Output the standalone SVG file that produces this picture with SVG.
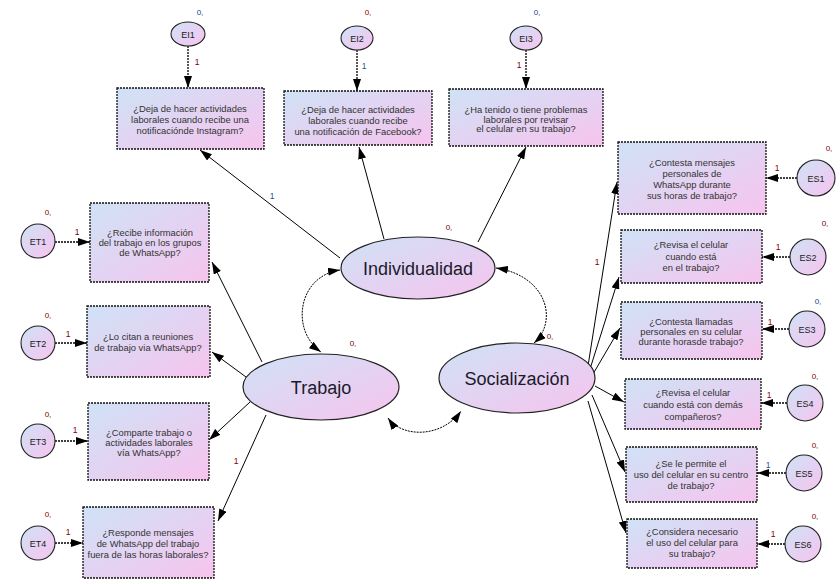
<svg xmlns="http://www.w3.org/2000/svg" width="840" height="584" viewBox="0 0 840 584">
<defs>
<linearGradient id="g" x1="0" y1="0" x2="1" y2="1">
<stop offset="0" stop-color="#cfe2f6"/>
<stop offset="1" stop-color="#f7c4ee"/>
</linearGradient>
<marker id="ah" viewBox="0 0 12 8" refX="12" refY="4" markerWidth="12" markerHeight="8" markerUnits="userSpaceOnUse" orient="auto-start-reverse">
<path d="M0,0 L12,4 L0,8 z" fill="#000"/>
</marker>
<style>
.box{fill:url(#g);stroke:#111;stroke-width:1.3;stroke-dasharray:2 1}
.lat{fill:url(#g);stroke:#222;stroke-width:1.2}
.err{fill:url(#g);stroke:#222;stroke-width:1.1}
.bt{font-family:"Liberation Sans",Arial,sans-serif;font-size:9.4px;fill:#333;text-anchor:middle}
.lt{font-family:"Liberation Sans",Arial,sans-serif;font-size:18px;fill:#1a1a2a;text-anchor:middle}
.et{font-family:"Liberation Sans",Arial,sans-serif;font-size:9px;fill:#222;text-anchor:middle}
.z{font-family:"Liberation Sans",Arial,sans-serif;font-size:8px;fill:#800000;text-anchor:middle}
.zb{font-family:"Liberation Sans",Arial,sans-serif;font-size:8px;fill:#1f3a8a;text-anchor:middle}
.one{font-family:"Liberation Sans",Arial,sans-serif;font-size:8.5px;fill:#800000;text-anchor:middle}
.oneb{font-family:"Liberation Sans",Arial,sans-serif;font-size:8.5px;fill:#1f4f9a;text-anchor:middle}
.c{fill:none;stroke:#000;stroke-width:1;marker-end:url(#ah)}
.d{fill:none;stroke:#000;stroke-width:1.3;stroke-dasharray:2 1;marker-end:url(#ah)}
.cov{fill:none;stroke:#000;stroke-width:1;stroke-dasharray:2 1;marker-start:url(#ah);marker-end:url(#ah)}
</style>
</defs>
<rect width="840" height="584" fill="#fff"/>

<g id="connectors">
<!-- latent to indicators -->
<line class="c" x1="340" y1="258" x2="200" y2="150"/>
<line class="c" x1="384" y1="239" x2="359" y2="147"/>
<line class="c" x1="478" y1="242" x2="526" y2="147"/>
<line class="c" x1="262" y1="362" x2="212" y2="262"/>
<line class="c" x1="246" y1="377" x2="212" y2="352"/>
<line class="c" x1="250" y1="402" x2="209" y2="440"/>
<line class="c" x1="266" y1="415" x2="218" y2="521"/>
<line class="c" x1="588" y1="366" x2="617" y2="182"/>
<line class="c" x1="590" y1="369" x2="619" y2="277"/>
<line class="c" x1="593" y1="374" x2="620" y2="328"/>
<line class="c" x1="595" y1="386" x2="624" y2="402"/>
<line class="c" x1="592" y1="395" x2="625" y2="472"/>
<line class="c" x1="588" y1="401" x2="626" y2="533"/>
<!-- errors -->
<line class="d" x1="188" y1="46" x2="188" y2="88"/>
<line class="d" x1="357" y1="50" x2="357" y2="91"/>
<line class="d" x1="526" y1="50" x2="526" y2="89"/>
<line class="d" x1="55" y1="242" x2="90" y2="242"/>
<line class="d" x1="55" y1="343" x2="87" y2="343"/>
<line class="d" x1="55" y1="441" x2="88" y2="441"/>
<line class="d" x1="55" y1="543" x2="83" y2="543"/>
<line class="d" x1="797" y1="178" x2="766" y2="178"/>
<line class="d" x1="790" y1="257" x2="762" y2="257"/>
<line class="d" x1="789" y1="329" x2="762" y2="329"/>
<line class="d" x1="787" y1="403" x2="761" y2="403"/>
<line class="d" x1="786" y1="473" x2="757" y2="473"/>
<line class="d" x1="785" y1="544" x2="757" y2="544"/>
<!-- covariances -->
<path class="cov" d="M340,270 C298,276 290,330 321,352"/>
<path class="cov" d="M496,268 C548,276 558,322 534,343"/>
<path class="cov" d="M388,418 C402,438 442,438 461,411"/>
<!-- weight labels -->
<text class="oneb" x="272" y="199">1</text>
<text class="one" x="197" y="65">1</text>
<text class="oneb" x="364" y="69">1</text>
<text class="one" x="519" y="68">1</text>
<text class="one" x="77" y="235">1</text>
<text class="one" x="68" y="337">1</text>
<text class="one" x="75" y="433">1</text>
<text class="one" x="68" y="535">1</text>
<text class="one" x="236" y="464">1</text>
<text class="one" x="597" y="265">1</text>
<text class="one" x="777" y="171">1</text>
<text class="one" x="778" y="250">1</text>
<text class="one" x="770" y="325">1</text>
<text class="one" x="769" y="398">1</text>
<text class="oneb" x="768" y="468">1</text>
<text class="one" x="773" y="537">1</text>
</g>

<g id="Individualidad">
<ellipse class="lat" cx="418" cy="268" rx="77" ry="31"/>
<text class="lt" x="418" y="275">Individualidad</text>
<text class="z" x="449" y="230">0,</text>
</g>
<g id="Trabajo">
<ellipse class="lat" cx="321" cy="387" rx="78" ry="33"/>
<text class="lt" x="321" y="394">Trabajo</text>
<text class="z" x="353" y="346">0,</text>
</g>
<g id="Socializacion">
<ellipse class="lat" cx="517" cy="378" rx="78" ry="35"/>
<text class="lt" x="517" y="385">Socialización</text>
<text class="z" x="550" y="339">0,</text>
</g>

<g id="EI1">
<ellipse class="err" cx="188" cy="34" rx="17" ry="12"/>
<text class="et" x="188" y="37.5">EI1</text>
<text class="zb" x="200" y="15">0,</text>
</g>
<g id="EI2">
<ellipse class="err" cx="357" cy="38" rx="16" ry="12"/>
<text class="et" x="357" y="41.5">EI2</text>
<text class="z" x="368" y="15">0,</text>
</g>
<g id="EI3">
<ellipse class="err" cx="526" cy="38" rx="16" ry="12"/>
<text class="et" x="526" y="41.5">EI3</text>
<text class="zb" x="537" y="15">0,</text>
</g>

<g id="box-I1">
<rect class="box" x="117" y="88" width="147" height="61"/>
<text class="bt" x="190" y="111.5">¿Deja de hacer actividades</text>
<text class="bt" x="190" y="122.5">laborales cuando recibe una</text>
<text class="bt" x="190" y="133.5">notificaciónde Instagram?</text>
</g>
<g id="box-I2">
<rect class="box" x="284" y="91" width="148" height="54"/>
<text class="bt" x="358" y="113">¿Deja de hacer actividades</text>
<text class="bt" x="358" y="124">laborales cuando recibe</text>
<text class="bt" x="358" y="135">una notificación de Facebook?</text>
</g>
<g id="box-I3">
<rect class="box" x="449" y="89" width="154" height="57"/>
<text class="bt" x="526" y="113">¿Ha tenido o tiene problemas</text>
<text class="bt" x="526" y="122.5">laborales por revisar</text>
<text class="bt" x="526" y="132">el celular en su trabajo?</text>
</g>

<g id="ET1">
<ellipse class="err" cx="38" cy="241" rx="17" ry="17"/>
<text class="et" x="38" y="244.5">ET1</text>
<text class="z" x="48" y="215">0,</text>
</g>
<g id="ET2">
<ellipse class="err" cx="38" cy="343" rx="17" ry="17"/>
<text class="et" x="38" y="346.5">ET2</text>
<text class="z" x="48" y="318">0,</text>
</g>
<g id="ET3">
<ellipse class="err" cx="38" cy="441" rx="17" ry="17"/>
<text class="et" x="38" y="444.5">ET3</text>
<text class="z" x="48" y="417">0,</text>
</g>
<g id="ET4">
<ellipse class="err" cx="38" cy="543" rx="17" ry="17"/>
<text class="et" x="38" y="546.5">ET4</text>
<text class="z" x="48" y="517">0,</text>
</g>

<g id="box-T1">
<rect class="box" x="90" y="203" width="119" height="79"/>
<text class="bt" x="150" y="236">¿Recibe información</text>
<text class="bt" x="150" y="246">del trabajo en los grupos</text>
<text class="bt" x="150" y="256">de WhatsApp?</text>
</g>
<g id="box-T2">
<rect class="box" x="87" y="306" width="123" height="71"/>
<text class="bt" x="148" y="340">¿Lo citan a reuniones</text>
<text class="bt" x="148" y="351">de trabajo via WhatsApp?</text>
</g>
<g id="box-T3">
<rect class="box" x="88" y="403" width="121" height="77"/>
<text class="bt" x="149" y="436">¿Comparte trabajo o</text>
<text class="bt" x="149" y="446">actividades laborales</text>
<text class="bt" x="149" y="456">vía WhatsApp?</text>
</g>
<g id="box-T4">
<rect class="box" x="83" y="507" width="131" height="71"/>
<text class="bt" x="148" y="536">¿Responde mensajes</text>
<text class="bt" x="148" y="547">de WhatsApp del trabajo</text>
<text class="bt" x="148" y="558">fuera de las horas  laborales?</text>
</g>

<g id="ES1">
<ellipse class="err" cx="816" cy="178" rx="19" ry="18"/>
<text class="et" x="816" y="181.5">ES1</text>
<text class="z" x="829" y="151">0,</text>
</g>
<g id="ES2">
<ellipse class="err" cx="808" cy="257" rx="18" ry="18"/>
<text class="et" x="808" y="260.5">ES2</text>
<text class="z" x="825" y="226">0,</text>
</g>
<g id="ES3">
<ellipse class="err" cx="807" cy="329" rx="18" ry="18"/>
<text class="et" x="807" y="332.5">ES3</text>
<text class="zb" x="818" y="304">0,</text>
</g>
<g id="ES4">
<ellipse class="err" cx="805" cy="403" rx="18" ry="18"/>
<text class="et" x="805" y="406.5">ES4</text>
<text class="z" x="815" y="379">0,</text>
</g>
<g id="ES5">
<ellipse class="err" cx="804" cy="473" rx="18" ry="18"/>
<text class="et" x="804" y="476.5">ES5</text>
<text class="z" x="815" y="448">0,</text>
</g>
<g id="ES6">
<ellipse class="err" cx="803" cy="544" rx="18" ry="18"/>
<text class="et" x="803" y="547.5">ES6</text>
<text class="z" x="815" y="519">0,</text>
</g>

<g id="box-S1">
<rect class="box" x="618" y="142" width="148" height="72"/>
<text class="bt" x="692" y="166">¿Contesta mensajes</text>
<text class="bt" x="692" y="177">personales de</text>
<text class="bt" x="692" y="188">WhatsApp durante</text>
<text class="bt" x="692" y="199">sus horas de trabajo?</text>
</g>
<g id="box-S2">
<rect class="box" x="621" y="230" width="141" height="53"/>
<text class="bt" x="691" y="248">¿Revisa el celular</text>
<text class="bt" x="691" y="259.5">cuando está</text>
<text class="bt" x="691" y="271">en el trabajo?</text>
</g>
<g id="box-S3">
<rect class="box" x="621" y="302" width="141" height="57"/>
<text class="bt" x="691" y="325">¿Contesta llamadas</text>
<text class="bt" x="691" y="335">personales en su celular</text>
<text class="bt" x="691" y="345">durante horasde trabajo?</text>
</g>
<g id="box-S4">
<rect class="box" x="625" y="379" width="136" height="50"/>
<text class="bt" x="693" y="396">¿Revisa el celular</text>
<text class="bt" x="693" y="408">cuando está con demás</text>
<text class="bt" x="693" y="419.5">compañeros?</text>
</g>
<g id="box-S5">
<rect class="box" x="626" y="447" width="131" height="55"/>
<text class="bt" x="691" y="467">¿Se le permite el</text>
<text class="bt" x="691" y="477.5">uso del celular en su centro</text>
<text class="bt" x="691" y="489">de trabajo?</text>
</g>
<g id="box-S6">
<rect class="box" x="627" y="519" width="130" height="49"/>
<text class="bt" x="692" y="535">¿Considera necesario</text>
<text class="bt" x="692" y="546">el uso del celular para</text>
<text class="bt" x="692" y="557">su trabajo?</text>
</g>
</svg>
